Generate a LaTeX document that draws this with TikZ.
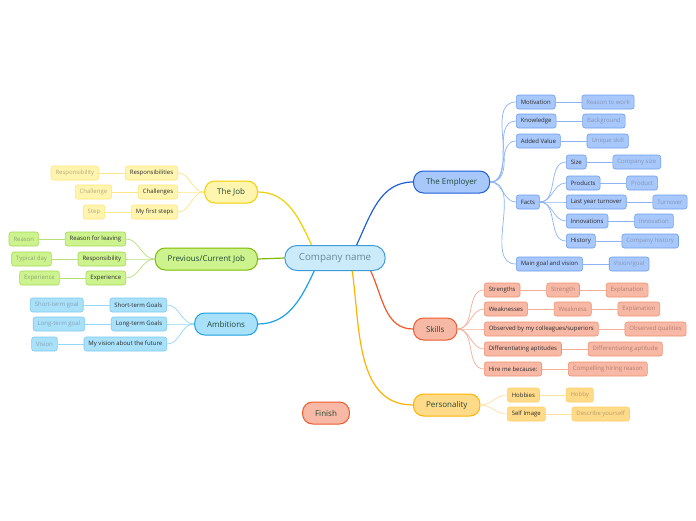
\documentclass[tikz,border=0pt]{standalone}
\usepackage{fontspec}
\setmainfont{Open Sans}
\usetikzlibrary{positioning}
\definecolor{MmCenterFill}{HTML}{CBEBFB}
\definecolor{MmCenterEdge}{HTML}{3D9BDB}
\definecolor{MmCenterText}{HTML}{6A8797}
\definecolor{MmDark}{HTML}{2B2B2B}
\definecolor{MmMainText}{HTML}{1F4A36}
% one set of colours per branch
\definecolor{MmEmpFill}{HTML}{A8C7FA}
\definecolor{MmEmpEdge}{HTML}{1F5FD8}
\definecolor{MmEmpRim}{HTML}{6E9EEF}
\definecolor{MmEmpLink}{HTML}{8DB3F2}
\definecolor{MmEmpLeaf}{HTML}{8396B8}
\definecolor{MmJobFill}{HTML}{FFF5AE}
\definecolor{MmJobEdge}{HTML}{F1CF00}
\definecolor{MmJobRim}{HTML}{FFE57A}
\definecolor{MmJobLink}{HTML}{FFE58A}
\definecolor{MmJobLeaf}{HTML}{B3AA7E}
\definecolor{MmPrevFill}{HTML}{CDF38E}
\definecolor{MmPrevEdge}{HTML}{7DBB00}
\definecolor{MmPrevRim}{HTML}{A6D955}
\definecolor{MmPrevLink}{HTML}{B8DF7A}
\definecolor{MmPrevLeaf}{HTML}{90A672}
\definecolor{MmAmbFill}{HTML}{A9E0FA}
\definecolor{MmAmbEdge}{HTML}{1BA1E2}
\definecolor{MmAmbRim}{HTML}{7FCBF0}
\definecolor{MmAmbLink}{HTML}{95D6F5}
\definecolor{MmAmbLeaf}{HTML}{86A4B8}
\definecolor{MmSklFill}{HTML}{F7B8A5}
\definecolor{MmSklEdge}{HTML}{F0592C}
\definecolor{MmSklRim}{HTML}{F0906F}
\definecolor{MmSklLink}{HTML}{F5AE98}
\definecolor{MmSklLeaf}{HTML}{B48070}
\definecolor{MmPerFill}{HTML}{FFDA89}
\definecolor{MmPerEdge}{HTML}{FFB300}
\definecolor{MmPerRim}{HTML}{FFCF66}
\definecolor{MmPerLink}{HTML}{FFE0A0}
\definecolor{MmPerLeaf}{HTML}{B69F6C}
\tikzset{
  mmcenter/.style={
    draw=MmCenterEdge,
    fill=MmCenterFill,
    line width=1pt,
    rounded corners=12pt,
    minimum height=25pt,
    inner xsep=14pt,
    text=MmCenterText,
    font=\fontsize{9.8}{11}\selectfont
  },
  mmmain/.style={
    draw=Mm#1Edge,
    fill=Mm#1Fill,
    line width=1pt,
    rounded corners=10pt,
    minimum height=22pt,
    inner xsep=12.5pt,
    text=MmMainText,
    font=\fontsize{8}{9}\selectfont
  },
  mmchild/.style={
    draw=Mm#1Rim,
    fill=Mm#1Fill,
    line width=.6pt,
    rounded corners=2.5pt,
    minimum height=14pt,
    inner xsep=4.5pt,
    inner ysep=0pt,
    text=MmDark,
    font=\fontsize{6}{7}\selectfont
  },
  mmleaf/.style={mmchild=#1,text=Mm#1Leaf},
  mmtrunk/.style={draw=Mm#1Edge,line width=1.2pt},
  mmlink/.style={draw=Mm#1Link,line width=.7pt}
}

\begin{document}
\begin{tikzpicture}[x=1pt,y=1pt,node distance=26pt]
  \useasboundingbox[fill=white] (0,0) rectangle (696,-520);
  \node[mmcenter] (cn) at (335,-258) {Company name};

  % main branches
  \node[mmmain=Emp,anchor=west] (emp) at (413,-182) {The Employer};
  \node[mmmain=Job,anchor=east] (job) at (258,-192) {The Job};
  \node[mmmain=Prev,anchor=east] (prev) at (258,-259) {Previous/Current Job};
  \node[mmmain=Amb,anchor=east] (amb) at (258,-324) {Ambitions};
  \node[mmmain=Skl,anchor=west] (skl) at (413,-329) {Skills};
  \node[mmmain=Per,anchor=west] (per) at (413,-405) {Personality};
  \node[mmmain=Skl] (fin) at (326,-413) {Finish};

  \draw[mmtrunk=Emp] (cn.31) to[out=65,in=180] (emp.west);
  \draw[mmtrunk=Job] (cn.151) to[out=115,in=0] (job.east);
  \draw[mmtrunk=Prev] (cn.west) -- (prev.east);
  \draw[mmtrunk=Amb] (cn.212) to[out=245,in=0] (amb.east);
  \draw[mmtrunk=Skl] (cn.340) to[out=-65,in=180] (skl.west);
  \draw[mmtrunk=Per] (cn.323) to[out=-82,in=180] (per.west);

  % The Employer
  \node[mmchild=Emp,anchor=west] (mot) at (516,-102) {Motivation};
  \node[mmchild=Emp,anchor=west] (knw) at (516,-121) {Knowledge};
  \node[mmchild=Emp,anchor=west] (add) at (516,-141) {Added Value};
  \node[mmchild=Emp,anchor=west] (fac) at (516,-202) {Facts};
  \node[mmchild=Emp,anchor=west] (goal) at (516,-264) {Main goal and vision};
  \node[mmchild=Emp,anchor=west] (size) at (566,-162) {Size};
  \node[mmchild=Emp,anchor=west] (prod) at (566,-183) {Products};
  \node[mmchild=Emp,anchor=west] (turn) at (566,-202) {Last year turnover};
  \node[mmchild=Emp,anchor=west] (inno) at (566,-221) {Innovations};
  \node[mmchild=Emp,anchor=west] (hist) at (566,-241) {History};
  \node[mmleaf=Emp,right=of mot] (motx) {Reason to work};
  \node[mmleaf=Emp,right=of knw] (knwx) {Background};
  \node[mmleaf=Emp,right=of add] (addx) {Unique skill};
  \node[mmleaf=Emp,right=of goal] (goalx) {Vision/goal};
  \node[mmleaf=Emp,right=of size] (sizex) {Company size};
  \node[mmleaf=Emp,right=of prod] (prodx) {Product};
  \node[mmleaf=Emp,right=of turn] (turnx) {Turnover};
  \node[mmleaf=Emp,right=of inno] (innox) {Innovation};
  \node[mmleaf=Emp,right=of hist] (histx) {Company history};
  \foreach \k in {mot,knw,add,fac,goal}
    \draw[mmlink=Emp] (emp.east) to[out=0,in=180] (\k.west);
  \foreach \k in {size,prod,turn,inno,hist}
    \draw[mmlink=Emp] (fac.east) to[out=0,in=180] (\k.west);
  \foreach \k in {mot,knw,add,goal,size,prod,turn,inno,hist}
    \draw[mmlink=Emp] (\k.east) -- (\k x.west);

  % Skills
  \node[mmchild=Skl,anchor=west] (str) at (484,-290) {Strengths};
  \node[mmchild=Skl,anchor=west] (wea) at (484,-309) {Weaknesses};
  \node[mmchild=Skl,anchor=west] (obs) at (484,-329) {Observed by my colleagues/superiors};
  \node[mmchild=Skl,anchor=west] (dif) at (484,-349) {Differentiating aptitudes};
  \node[mmchild=Skl,anchor=west] (hire) at (484,-369) {Hire me because:};
  \node[mmleaf=Skl,right=of str] (strx) {Strength};
  \node[mmleaf=Skl,right=of strx] (stry) {Explanation};
  \node[mmleaf=Skl,right=of wea] (weax) {Weakness};
  \node[mmleaf=Skl,right=of weax] (weay) {Explanation};
  \node[mmleaf=Skl,right=of obs] (obsx) {Observed qualities};
  \node[mmleaf=Skl,right=of dif] (difx) {Differentiating aptitude};
  \node[mmleaf=Skl,right=of hire] (hirex) {Compelling hiring reason};
  \foreach \k in {str,wea,obs,dif,hire}
    \draw[mmlink=Skl] (skl.east) to[out=0,in=180] (\k.west);
  \foreach \k in {str,wea,obs,dif,hire}
    \draw[mmlink=Skl] (\k.east) -- (\k x.west);
  \draw[mmlink=Skl] (strx.east) -- (stry.west);
  \draw[mmlink=Skl] (weax.east) -- (weay.west);

  % Personality
  \node[mmchild=Per,anchor=west] (hob) at (507,-395) {Hobbies};
  \node[mmchild=Per,anchor=west] (self) at (507,-414) {Self Image};
  \node[mmleaf=Per,right=of hob] (hobx) {Hobby};
  \node[mmleaf=Per,right=of self] (selfx) {Describe yourself};
  \foreach \k in {hob,self}{
    \draw[mmlink=Per] (per.east) to[out=0,in=180] (\k.west);
    \draw[mmlink=Per] (\k.east) -- (\k x.west);
  }

  % The Job
  \node[mmchild=Job,anchor=east] (resp) at (178,-173) {Responsibilities};
  \node[mmchild=Job,anchor=east] (chal) at (178,-192) {Challenges};
  \node[mmchild=Job,anchor=east] (first) at (178,-212) {My first steps};
  \node[mmleaf=Job,left=of resp] (respx) {Responsibility};
  \node[mmleaf=Job,left=of chal] (chalx) {Challenge};
  \node[mmleaf=Job,left=of first] (firstx) {Step};
  \foreach \k in {resp,chal,first}{
    \draw[mmlink=Job] (job.west) to[out=180,in=0] (\k.east);
    \draw[mmlink=Job] (\k.west) -- (\k x.east);
  }

  % Previous/Current Job
  \node[mmchild=Prev,anchor=east] (leave) at (126,-239) {Reason for leaving};
  \node[mmchild=Prev,anchor=east] (pres) at (126,-259) {Responsibility};
  \node[mmchild=Prev,anchor=east] (exp) at (126,-278) {Experience};
  \node[mmleaf=Prev,left=of leave] (leavex) {Reason};
  \node[mmleaf=Prev,left=of pres] (presx) {Typical day};
  \node[mmleaf=Prev,left=of exp] (expx) {Experience};
  \foreach \k in {leave,pres,exp}{
    \draw[mmlink=Prev] (prev.west) to[out=180,in=0] (\k.east);
    \draw[mmlink=Prev] (\k.west) -- (\k x.east);
  }

  % Ambitions
  \node[mmchild=Amb,anchor=east] (short) at (167,-305) {Short-term Goals};
  \node[mmchild=Amb,anchor=east] (long) at (167,-324) {Long-term Goals};
  \node[mmchild=Amb,anchor=east] (vis) at (167,-344) {My vision about the future};
  \node[mmleaf=Amb,left=of short] (shortx) {Short-term goal};
  \node[mmleaf=Amb,left=of long] (longx) {Long-term goal};
  \node[mmleaf=Amb,left=of vis] (visx) {Vision};
  \foreach \k in {short,long,vis}{
    \draw[mmlink=Amb] (amb.west) to[out=180,in=0] (\k.east);
    \draw[mmlink=Amb] (\k.west) -- (\k x.east);
  }
\end{tikzpicture}
\end{document}
